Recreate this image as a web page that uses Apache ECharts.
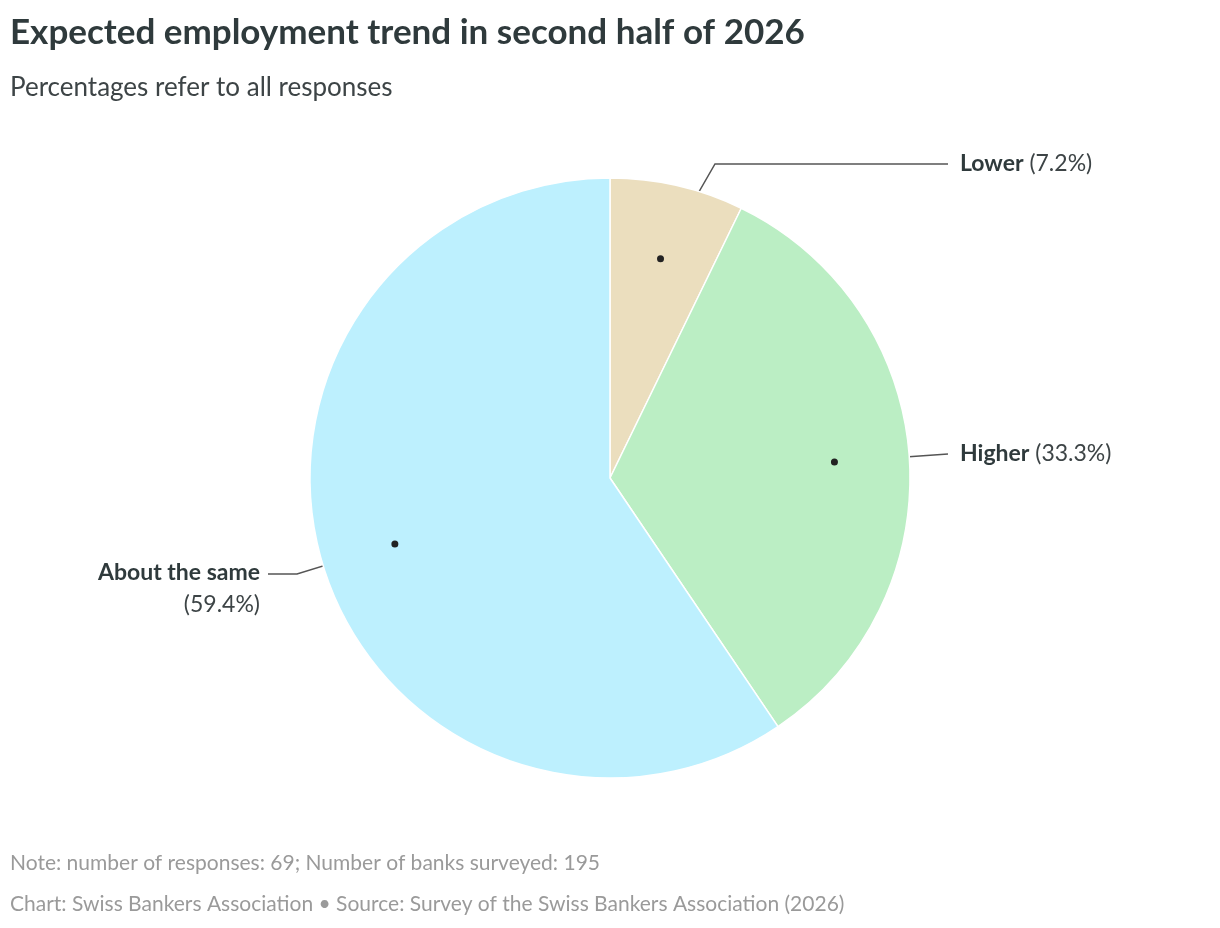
<!DOCTYPE html>
<html><head><meta charset="utf-8">
<script src="https://cdn.jsdelivr.net/npm/echarts@6/dist/echarts.min.js"></script>
<style>html,body{margin:0;background:#fff}#c{width:1220px;height:928px}</style>
</head><body><div id="c"></div>
<script>
const categories = ['Lower', 'Higher', 'About the same'];
const values = [7.2, 33.3, 59.4];
const colors = ['#ebdebe', '#bbeec4', '#bdf0fe'];
const F = 'Lato, "Open Sans", sans-serif';
const CX = 610, CY = 478, RD = 225;
const total = values.reduce((x, y) => x + y, 0);
let acc = 90;
const starts = values.map(v => {
  const mid = acc - v / total * 180; acc -= v / total * 360;
  const r = mid * Math.PI / 180;
  return [CX + RD * Math.cos(r), CY - RD * Math.sin(r)];
});
const data = categories.map((n, i) => ({name: n, value: values[i], itemStyle: {color: colors[i]}}));
const labelPos = {
  'Lower': {x: 960, y: 164, bend: [715, 164], end: [948, 164], align: 'left'},
  'Higher': {x: 960, y: 454, bend: null, end: [948, 454], align: 'left'},
  'About the same': {x: 260, y: 589, bend: [297, 574], end: [268, 574], align: 'right'}
};
const chart = echarts.init(document.getElementById('c'));
chart.setOption({
  animation: false,
  title: [
    {text: 'Expected employment trend in second half of 2026', left: 5, top: 10,
     textStyle: {fontFamily: F, fontSize: 35, fontWeight: 'bold', color: '#2f3a3c'}},
    {text: 'Percentages refer to all responses', left: 5, top: 70,
     textStyle: {fontFamily: F, fontSize: 26, fontWeight: 'normal', color: '#3d4446'}},
    {text: 'Note: number of responses: 69; Number of banks surveyed: 195', left: 5, top: 848,
     textStyle: {fontFamily: F, fontSize: 21, fontWeight: 'normal', color: '#9a9a9a'}},
    {text: 'Chart: Swiss Bankers Association \u2022 Source: Survey of the Swiss Bankers Association (2026)', left: 5, top: 889,
     textStyle: {fontFamily: F, fontSize: 21, fontWeight: 'normal', color: '#9a9a9a'}}
  ],
  series: [
    {type: 'pie', center: [CX, CY], radius: [0, 300], startAngle: 90, clockwise: true,
     data: data, silent: true,
     itemStyle: {borderColor: '#fff', borderWidth: 1.5},
     label: {show: true, position: 'outside', fontFamily: F, fontSize: 23, color: '#3d4446', lineHeight: 32,
       formatter: p => p.name === 'About the same' ? '{b|About the same}\n(' + p.value + '%)' : '{b|' + p.name + '} (' + p.value + '%)',
       rich: {b: {fontFamily: F, fontSize: 23, fontWeight: 'bold', color: '#2f3a3c'}}},
     labelLine: {show: true, lineStyle: {color: '#555', width: 1.5}},
     labelLayout: function (p) {
       const L = labelPos[categories[p.dataIndex]];
       const s = starts[p.dataIndex];
       const pts = L.bend ? [s, L.bend, L.end] : [s, [(s[0] + L.end[0]) / 2, (s[1] + L.end[1]) / 2], L.end];
       return {x: L.x, y: L.y, align: L.align, verticalAlign: 'middle', labelLinePoints: pts};
     }}
  ],
  graphic: starts.map(s => ({type: 'circle', shape: {cx: s[0], cy: s[1], r: 3.5}, style: {fill: '#222'}, z: 100}))
});
</script></body></html>
